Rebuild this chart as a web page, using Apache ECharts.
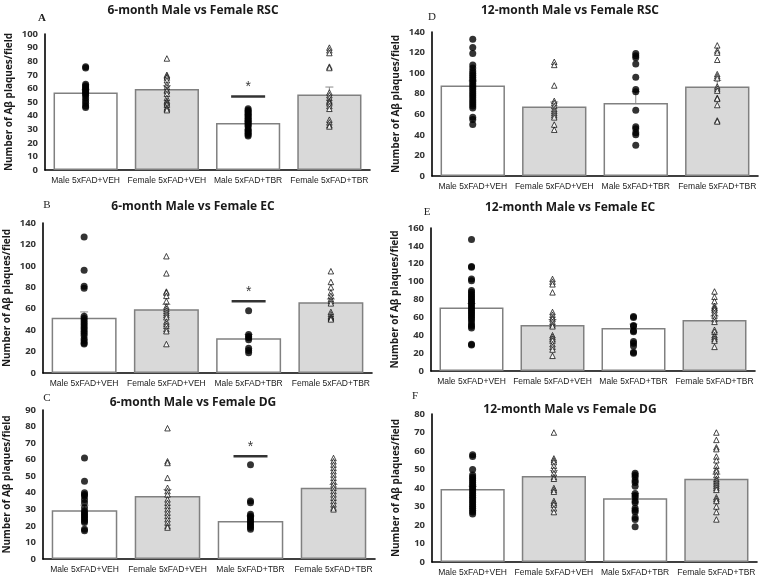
<!DOCTYPE html>
<html>
<head>
<meta charset="utf-8">
<title>Aβ plaques</title>
<script src="https://cdn.jsdelivr.net/npm/echarts@6/dist/echarts.min.js"></script>
<style>
  html, body { margin: 0; padding: 0; background: #fff; }
  #main { width: 763px; height: 581px; }
</style>
</head>
<body>
<div id="main"></div>
<script type="text/javascript">
// categories + panel data
var categories = ['Male 5xFAD+VEH', 'Female 5xFAD+VEH', 'Male 5xFAD+TBR', 'Female 5xFAD+TBR'];

// A: 6-month RSC
var meansA = [57, 59.5, 34.5, 55.5];
var semA = [2, 2.5, 1.5, 5.5];
var ptsA = [
  [76, 75, 63, 62, 61, 60, 59, 58, 57, 56, 55, 53, 51, 49, 47, 46],
  [82, 70, 69, 68, 66, 63, 61, 59, 58, 56, 53, 51, 50, 49, 48, 46, 45, 44],
  [45, 44, 43, 42, 41, 40, 39, 38, 37, 36, 35, 34, 33, 32, 30, 29, 28, 27, 26, 25],
  [90, 88, 86, 76, 75, 57, 55, 53, 51, 50, 49, 47, 45, 37, 35, 33, 32]
];
var sigA = 54;

// B: 6-month EC
var meansB = [51.5, 59.5, 32.5, 66];
var semB = [5.5, 4.5, 3.5, 3];
var ptsB = [
  [127, 96, 81, 79, 53, 51, 49, 47, 45, 43, 41, 39, 37, 35, 32, 30, 28, 27],
  [109, 93, 76, 75, 72, 67, 62, 60, 58, 56, 54, 52, 48, 46, 44, 41, 39, 27],
  [58, 36, 34, 33, 31, 23, 21, 19],
  [95, 85, 80, 75, 72, 69, 67, 65, 57, 55, 53, 52, 51, 50]
];
var sigB = 67;

// C: 6-month DG
var meansC = [29.5, 38, 23, 43];
var semC = [3, 4, 3, 2];
var ptsC = [
  [61, 47, 40, 39, 38, 36, 34, 31, 29, 28, 27, 26, 25, 24, 23, 22, 18, 17],
  [79, 59, 58, 49, 43, 41, 39, 36, 34, 32, 30, 28, 26, 24, 22, 20, 19],
  [57, 35, 34, 27, 26, 25, 24, 23, 22, 21, 20, 19, 18],
  [61, 59, 57, 55, 53, 51, 49, 47, 45, 43, 41, 39, 37, 35, 33, 31, 30]
];
var sigC = 62;

// D: 12-month RSC
var meansD = [88, 67.5, 71, 87];
var semD = [4.5, 4.5, 11, 6];
var ptsD = [
  [133, 125, 119, 108, 105, 102, 100, 98, 96, 94, 92, 90, 88, 86, 84, 82, 80, 78, 76, 74, 72, 70, 68, 66, 57, 55, 50],
  [111, 108, 88, 73, 71, 68, 65, 63, 61, 59, 57, 50, 45],
  [119, 117, 115, 109, 96, 84, 82, 64, 48, 46, 42, 40, 30],
  [127, 122, 120, 113, 99, 97, 95, 87, 85, 83, 76, 75, 69, 54, 53]
];

// E: 12-month EC
var meansE = [71, 51.5, 48, 57];
var semE = [4.5, 6, 4.5, 4.5];
var ptsE = [
  [147, 117, 116, 103, 101, 90, 88, 86, 84, 82, 80, 78, 76, 74, 72, 70, 68, 66, 64, 62, 60, 58, 55, 52, 50, 48, 30, 29],
  [103, 100, 97, 88, 66, 63, 60, 58, 55, 52, 50, 40, 38, 36, 34, 30, 27, 24, 17],
  [61, 60, 51, 50, 45, 44, 33, 31, 28, 21, 20],
  [89, 83, 78, 73, 71, 70, 68, 65, 62, 58, 55, 46, 44, 40, 38, 36, 34, 27]
];

// F: 12-month DG
var meansF = [39.5, 46.5, 34.5, 45];
var semF = [1.5, 3, 2.5, 2.5];
var ptsF = [
  [58, 57, 50, 47, 46, 45, 44, 43, 42, 41, 40, 39, 38, 37, 36, 35, 34, 33, 32, 31, 30, 29, 28, 27, 26],
  [70, 56, 55, 54, 52, 50, 48, 46, 45, 40, 39, 38, 33, 32, 31, 29, 27],
  [48, 47, 46, 44, 43, 41, 37, 36, 35, 33, 32, 29, 28, 27, 24, 23, 19],
  [70, 66, 62, 61, 57, 55, 52, 50, 49, 47, 45, 44, 43, 42, 41, 40, 39, 35, 34, 33, 30, 27, 23]
];

var panels = [
  {letter: 'A', title: '6-month Male vs Female RSC', means: meansA, sem: semA, pts: ptsA, sig: sigA, max: 100, step: 10,
   grid: {left: 45, top: 34, width: 325, height: 136}, titlePos: [193, 11], letterPos: [42, 18]},
  {letter: 'B', title: '6-month Male vs Female EC', means: meansB, sem: semB, pts: ptsB, sig: sigB, max: 140, step: 20,
   grid: {left: 43, top: 223, width: 329, height: 150}, titlePos: [193, 207], letterPos: [47, 205]},
  {letter: 'C', title: '6-month Male vs Female DG', means: meansC, sem: semC, pts: ptsC, sig: sigC, max: 90, step: 10,
   grid: {left: 43, top: 410, width: 332, height: 149}, titlePos: [193, 403], letterPos: [47, 398]},
  {letter: 'D', title: '12-month Male vs Female RSC', means: meansD, sem: semD, pts: ptsD, sig: null, max: 140, step: 20,
   grid: {left: 432, top: 32, width: 326, height: 144}, titlePos: [570, 11], letterPos: [432, 17]},
  {letter: 'E', title: '12-month Male vs Female EC', means: meansE, sem: semE, pts: ptsE, sig: null, max: 160, step: 20,
   grid: {left: 431, top: 228, width: 324, height: 143}, titlePos: [570, 208], letterPos: [427, 212]},
  {letter: 'F', title: '12-month Male vs Female DG', means: meansF, sem: semF, pts: ptsF, sig: null, max: 80, step: 10,
   grid: {left: 432, top: 414, width: 325, height: 148}, titlePos: [570, 410], letterPos: [415, 396]}
];

var myChart = echarts.init(document.getElementById('main'));

var grids = [], xAxes = [], yAxes = [], series = [], graphics = [];

panels.forEach(function (p, i) {
  grids.push(p.grid);

  xAxes.push({
    type: 'category', gridIndex: i, data: categories,
    axisLine: {lineStyle: {color: '#000', width: 1.6}},
    axisTick: {show: false},
    axisLabel: {interval: 0, fontSize: 8.5, color: '#1a1a1a', fontFamily: 'Liberation Sans', margin: 6}
  });

  yAxes.push({
    type: 'value', gridIndex: i, min: 0, max: p.max, interval: p.step,
    name: 'Number of Aβ plaques/field', nameLocation: 'middle', nameGap: 31,
    nameTextStyle: {fontSize: 10, fontWeight: 'bold', color: '#1a1a1a', fontFamily: 'Open Sans'},
    axisLine: {show: true, lineStyle: {color: '#000', width: 1.6}},
    axisTick: {show: false},
    splitLine: {show: false},
    axisLabel: {fontSize: 9.5, fontWeight: 'bold', color: '#333', fontFamily: 'Open Sans', margin: 7}
  });

  // bars: male white, female grey
  series.push({
    type: 'bar', xAxisIndex: i, yAxisIndex: i, barWidth: '79%', silent: true,
    data: p.means.map(function (v, j) {
      return {value: v, itemStyle: {color: j % 2 ? '#d9d9d9' : '#ffffff'}};
    }),
    itemStyle: {borderColor: '#808080', borderWidth: 1.5}
  });

  // error bars (upper only)
  series.push({
    type: 'custom', xAxisIndex: i, yAxisIndex: i, silent: true, z: 3,
    data: p.means.map(function (v, j) { return [j, v, v + p.sem[j]]; }),
    renderItem: function (params, api) {
      var lo = api.coord([api.value(0), api.value(1)]);
      var hi = api.coord([api.value(0), api.value(2)]);
      var st = {stroke: '#8c8c8c', lineWidth: 1};
      return {type: 'group', children: [
        {type: 'line', shape: {x1: lo[0], y1: lo[1], x2: hi[0], y2: hi[1]}, style: st},
        {type: 'line', shape: {x1: hi[0] - 4, y1: hi[1], x2: hi[0] + 4, y2: hi[1]}, style: st}
      ]};
    }
  });

  // individual points
  p.pts.forEach(function (arr, j) {
    var female = j % 2 === 1;
    series.push({
      type: 'scatter', xAxisIndex: i, yAxisIndex: i, silent: true, z: 4,
      symbol: female ? 'triangle' : 'circle',
      symbolSize: female ? 5.5 : 7,
      itemStyle: female ? {color: '#fff', borderColor: '#000', borderWidth: 0.9} : {color: '#000'},
      data: arr.map(function (v) { return [j, v]; })
    });
  });

  // significance bar + star
  if (p.sig !== null) {
    series.push({
      type: 'scatter', xAxisIndex: i, yAxisIndex: i, silent: true, z: 5,
      symbol: 'rect', symbolSize: [34, 2.5],
      itemStyle: {color: '#000'},
      label: {show: true, position: 'top', distance: 1, formatter: '*', fontSize: 14, color: '#000', fontFamily: 'Liberation Sans'},
      data: [[2, p.sig]]
    });
  }

  graphics.push({
    type: 'text', x: p.titlePos[0], y: p.titlePos[1],
    style: {text: p.title, fill: '#1a1a1a', font: 'bold 12px "Open Sans", sans-serif', textAlign: 'center', verticalAlign: 'middle'}
  });
  graphics.push({
    type: 'text', x: p.letterPos[0], y: p.letterPos[1],
    style: {text: p.letter, fill: '#222', font: (i === 0 ? 'bold ' : '') + '11px "Liberation Serif", serif', textAlign: 'center', verticalAlign: 'middle'}
  });
});

option = {
  animation: false,
  backgroundColor: '#fff',
  grid: grids,
  xAxis: xAxes,
  yAxis: yAxes,
  series: series,
  graphic: graphics
};

myChart.setOption(option);
</script>
</body>
</html>
